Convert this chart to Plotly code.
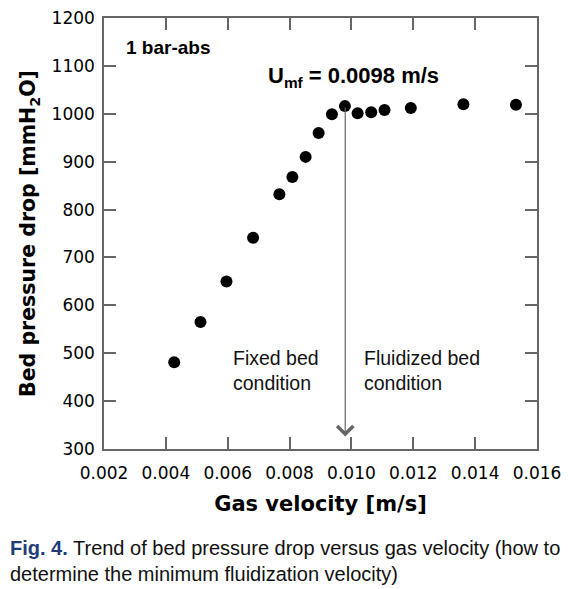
import plotly.graph_objects as go

# Data
gas_velocity = [0.00427, 0.00512, 0.00596, 0.00682, 0.00767, 0.00809, 0.00852, 0.00894,
                0.00937, 0.00979, 0.0102, 0.01064, 0.01107, 0.01192, 0.01362, 0.01532]
pressure_drop = [481, 565, 650, 741, 832, 868, 910, 960, 999, 1016, 1001, 1003, 1008, 1012, 1020, 1019]
umf = 0.0098
umf_top = 1016
arrow_tip = 326

x_ticks = [0.002, 0.004, 0.006, 0.008, 0.010, 0.012, 0.014, 0.016]
x_ticklabels = ["0.002", "0.004", "0.006", "0.008", "0.010", "0.012", "0.014", "0.016"]
y_ticks = [300, 400, 500, 600, 700, 800, 900, 1000, 1100, 1200]

# page body has an 8px margin, so the figure is drawn 8px in from the corner
OFF = 8
W, H = 583 - 2 * OFF, 589 - OFF - 2
L, T = 104 - OFF, 18 - OFF
PW, PH = 433, 431
R, B = W - L - PW, H - T - PH


def px(x):
    return (x - OFF - L) / PW


def py(y):
    return (T + PH - (y - OFF)) / PH


fig = go.Figure()
fig.add_trace(go.Scatter(
    x=gas_velocity, y=pressure_drop, mode="markers",
    marker=dict(color="black", size=12), showlegend=False, cliponaxis=False))

axis_common = dict(
    showline=True, linecolor="#666666", linewidth=1.5, mirror="ticks",
    ticks="inside", ticklen=12, tickcolor="#666666", tickwidth=1.5,
    showgrid=False, zeroline=False, automargin=False, ticklabeloverflow="allow",
    tickfont=dict(family="DejaVu Sans", size=17, color="black"),
)

fig.update_layout(
    width=W, height=H, margin=dict(l=L, r=R, t=T, b=B, autoexpand=False),
    plot_bgcolor="white", paper_bgcolor="white",
    xaxis=dict(range=[0.002, 0.016], tickvals=x_ticks, ticktext=x_ticklabels,
               ticklabelstandoff=8,
               title=dict(text="<b>Gas velocity [m/s]</b>", standoff=14,
                          font=dict(family="DejaVu Sans", size=21, color="black")),
               **axis_common),
    yaxis=dict(range=[300, 1200], tickvals=y_ticks, ticklabelstandoff=4,
               title=dict(text="<b>Bed pressure drop [mmH<sub>2</sub>O]</b>", standoff=10,
                          font=dict(family="DejaVu Sans", size=20.5, color="black")),
               **axis_common),
)

# Umf arrow
fig.add_annotation(x=umf, y=arrow_tip, ax=umf, ay=umf_top, axref="x", ayref="y",
                   xref="x", yref="y", showarrow=True, arrowhead=4, arrowsize=2.6,
                   arrowwidth=1.2, arrowcolor="#666666", text="")

arial = "Liberation Sans"
fig.add_annotation(x=px(124), y=py(47), xref="paper", yref="paper", xanchor="left",
                   yanchor="middle", showarrow=False, text="<b>1 bar-abs</b>",
                   font=dict(family=arial, size=19, color="black"))
fig.add_annotation(x=px(266), y=py(77), xref="paper", yref="paper", xanchor="left",
                   yanchor="middle", showarrow=False,
                   text="<b>U<sub>mf</sub> = 0.0098 m/s</b>",
                   font=dict(family=arial, size=22, color="black"))
fig.add_annotation(x=px(231), y=py(370), xref="paper", yref="paper", xanchor="left",
                   yanchor="middle", showarrow=False, align="left",
                   text="Fixed bed<br>condition",
                   font=dict(family=arial, size=19.5, color="#111111"))
fig.add_annotation(x=px(362), y=py(370), xref="paper", yref="paper", xanchor="left",
                   yanchor="middle", showarrow=False, align="left",
                   text="Fluidized bed<br>condition",
                   font=dict(family=arial, size=19.5, color="#111111"))

# Caption
fig.add_annotation(x=px(8), y=py(561), xref="paper", yref="paper", xanchor="left",
                   yanchor="middle", showarrow=False, align="left",
                   text="<b><span style='color:#1f3d7a'>Fig. 4.</span></b> Trend of bed pressure drop versus gas velocity (how to<br>determine the minimum fluidization velocity)",
                   font=dict(family=arial, size=20, color="#111111"))

fig.write_html("out.html")
